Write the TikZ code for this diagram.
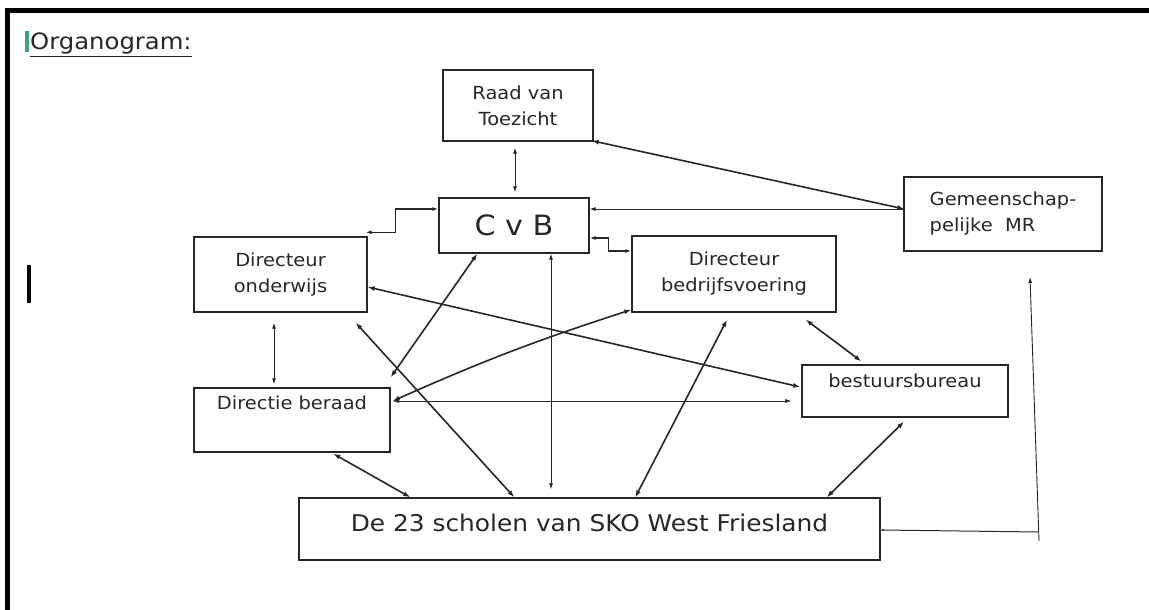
\documentclass[tikz,border=0pt]{standalone}
\usepackage{fontspec}
\setmainfont{DejaVu Sans}[FakeStretch=1.08]
\usetikzlibrary{arrows.meta}
\newcommand\lblfont{\fontsize{18}{26}\selectfont}
\newcommand\cvbfont{\fontsize{28}{32}\selectfont}
\newcommand\btmfont{\fontsize{23}{28}\selectfont}
\newcommand\ttlfont{\fontsize{22.5}{26}\selectfont}
\definecolor{ink}{HTML}{262626}
\definecolor{cursorgreen}{HTML}{3DA57A}
\begin{document}
\begin{tikzpicture}[x=1pt,y=-1pt,
  box/.style={draw=ink,line width=1.4pt,rectangle,inner sep=0pt,align=center,text=ink,font=\lblfont},
  boldlink/.style={draw=ink,line width=1.6pt,{Latex[length=7pt,width=5pt]}-{Latex[length=7pt,width=5pt]}},
  thinlink/.style={draw=ink,line width=0.9pt,{Latex[length=6pt,width=4pt]}-{Latex[length=6pt,width=4pt]}},
  thinone/.style={draw=ink,line width=0.9pt,-{Latex[length=6pt,width=4pt]}}]
\useasboundingbox (0,0) rectangle (1149,610);
% frame
\fill[black] (5,8) rectangle (1149,13);
\fill[black] (5,8) rectangle (10,610);
% cursors
\fill[cursorgreen] (25,31) rectangle (29,52);
\fill[black] (27,265) rectangle (31,303);
% title
\node[anchor=base west,font=\ttlfont,text=ink,inner sep=0pt] (title) at (30,50) {\underline{Organogram:}};
% boxes
\node[box,minimum width=150pt,minimum height=71pt] (raad) at (518,105.5) {Raad van\\Toezicht};
\node[box,minimum width=150pt,minimum height=55pt,font=\cvbfont] (cvb) at (514,225.5) {C v B};
\node[box,minimum width=204pt,minimum height=76pt] (dirb) at (734,274) {Directeur\\bedrijfsvoering};
\node[box,minimum width=198pt,minimum height=74pt,align=left] (gmr) at (1003,214) {Gemeenschap-\\pelijke\ \ MR};
\node[box,minimum width=173pt,minimum height=75pt] (diro) at (280.5,274.5) {Directeur\\onderwijs};
\node[box,minimum width=196pt,minimum height=64pt] (dirber) at (292,420) {Directie beraad\\\strut};
\node[box,minimum width=206pt,minimum height=52pt,text depth=20pt] (best) at (905,391) {bestuursbureau};
\node[box,minimum width=581pt,minimum height=62pt,font=\btmfont,text depth=12pt] (scholen) at (589.5,529) {De 23 scholen van SKO West Friesland};
% connectors
\draw[thinlink,shorten <=6pt,shorten >=5pt] ([xshift=-3pt]raad.south) -- ([xshift=-3pt]raad.south |- cvb.north);
\draw[boldlink] ([xshift=-2pt,yshift=1pt]raad.south east) -- ([yshift=5pt,xshift=1pt]gmr.west);
\draw[thinone] ([yshift=5pt,xshift=1pt]gmr.west) -- ([yshift=5pt]gmr.west -| cvb.east);
\draw[thinlink,line width=1.2pt] ([yshift=-12.5pt]cvb.east) -- ++(19,0) |- ([yshift=23pt]dirb.west);
\draw[thinlink,line width=1.2pt] ([yshift=16.5pt]cvb.west) -- ++(-43,0) |- ([xshift=-2pt,yshift=4pt]diro.north east);
\draw[thinlink,shorten <=10pt,shorten >=3pt] ([xshift=-6.5pt]diro.south) -- ([xshift=-6.5pt]diro.south |- dirber.north);
\draw[boldlink] ([yshift=-12.5pt]diro.east) -- ([yshift=4pt,xshift=-1pt]best.west);
\draw[boldlink] ([yshift=10pt]dirber.north east) -- ([xshift=39pt]cvb.south west);
\draw[boldlink] ([yshift=19pt,xshift=2pt]dirber.east) to[bend left=3] ([yshift=3pt]dirb.south west);
\draw[thinlink,line width=0.6pt] ([yshift=19pt,xshift=2pt]dirber.east) -- ([xshift=-10pt,yshift=-10pt]best.west);
\draw[thinlink,shorten >=8pt] ([xshift=37pt]cvb.south) -- ([xshift=37pt]cvb.south |- scholen.north);
\draw[boldlink] ([xshift=-12pt,yshift=-10pt]diro.south east) -- ([xshift=216pt]scholen.north west);
\draw[boldlink] ([xshift=140pt,yshift=-1pt]dirber.south west) -- ([xshift=112pt]scholen.north west);
\draw[boldlink] ([xshift=-7pt,yshift=-7pt]dirb.south) -- ([xshift=337pt]scholen.north west);
\draw[boldlink] ([xshift=-31pt,yshift=-7pt]dirb.south east) -- ([xshift=60pt,yshift=3pt]best.north west);
\draw[boldlink] ([yshift=-4pt,xshift=-1pt]best.south) -- ([xshift=-54pt]scholen.north east);
\coordinate (mrfoot) at (1039,541);
\coordinate (mrcorner) at (1038.7,532);
\coordinate (mrtip) at (1030,277);
\draw[draw=ink,line width=1pt,{Latex[length=3pt,width=3pt]}-] ([yshift=-1pt]scholen.east) -- (mrcorner);
\draw[thinone] (mrfoot) -- (mrtip);
\end{tikzpicture}
\end{document}
